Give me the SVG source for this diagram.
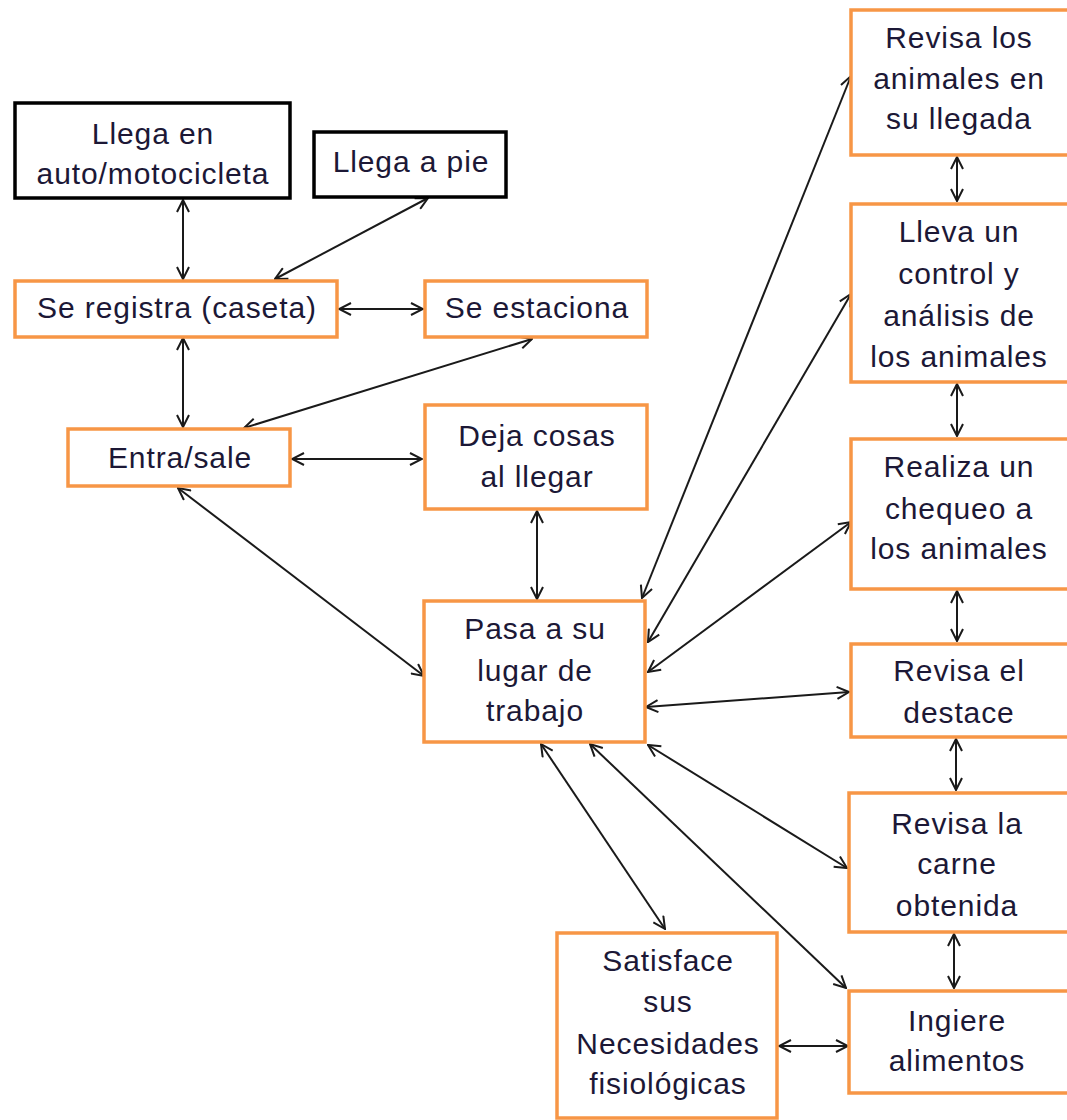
<svg xmlns="http://www.w3.org/2000/svg" width="1067" height="1120" viewBox="0 0 1067 1120">
<style>
.box{fill:#fff;stroke:#F79646;stroke-width:3.5}
.bbox{fill:#fff;stroke:#000;stroke-width:3.5}
text{font-family:"Liberation Sans",Arial,sans-serif;font-size:30px;fill:#1c1836;text-anchor:middle;letter-spacing:0.9px}
.c line{stroke:#1a1a1a;stroke-width:2;marker-start:url(#a);marker-end:url(#a)}
</style>
<defs>
<marker id="a" viewBox="0 0 14 14" refX="13" refY="7" markerWidth="14" markerHeight="14" markerUnits="userSpaceOnUse" orient="auto-start-reverse">
<path d="M1,1 L13,7 L1,13" fill="none" stroke="#1a1a1a" stroke-width="2"/>
</marker>
</defs>
<rect width="1067" height="1120" fill="#fff"/>
<g class="c">
<line x1="183" y1="200" x2="183" y2="279"/>
<line x1="428" y1="198" x2="275" y2="279"/>
<line x1="339" y1="309" x2="423" y2="309"/>
<line x1="183" y1="338" x2="183" y2="427"/>
<line x1="532" y1="339" x2="244" y2="428"/>
<line x1="292" y1="459" x2="422" y2="459"/>
<line x1="178" y1="488" x2="424" y2="676"/>
<line x1="537" y1="511" x2="537" y2="599"/>
<line x1="642" y1="598" x2="851" y2="76"/>
<line x1="648" y1="642" x2="851" y2="294"/>
<line x1="648" y1="672" x2="851" y2="522"/>
<line x1="646" y1="707" x2="849" y2="692"/>
<line x1="648" y1="745" x2="847" y2="868"/>
<line x1="590" y1="744" x2="846" y2="988"/>
<line x1="541" y1="744" x2="665" y2="929"/>
<line x1="779" y1="1046" x2="848" y2="1046"/>
<line x1="957" y1="157" x2="957" y2="201"/>
<line x1="957" y1="384" x2="957" y2="436"/>
<line x1="957" y1="591" x2="957" y2="641"/>
<line x1="956" y1="739" x2="956" y2="790"/>
<line x1="954" y1="934" x2="954" y2="988"/>
</g>
<g id="llega-auto"><rect class="bbox" x="15" y="103" width="275" height="95"/><text x="153" y="144">Llega en</text><text x="153" y="184">auto/motocicleta</text></g>
<g id="llega-pie"><rect class="bbox" x="314" y="132" width="192" height="65"/><text x="411" y="172">Llega a pie</text></g>
<g id="registra"><rect class="box" x="15" y="281" width="322" height="56"/><text x="177" y="318">Se registra (caseta)</text></g>
<g id="estaciona"><rect class="box" x="425" y="281" width="222" height="56"/><text x="537" y="318">Se estaciona</text></g>
<g id="entra"><rect class="box" x="68" y="429" width="222" height="57"/><text x="180" y="468">Entra/sale</text></g>
<g id="deja"><rect class="box" x="425" y="405" width="222" height="104"/><text x="537" y="446">Deja cosas</text><text x="537" y="487">al llegar</text></g>
<g id="pasa"><rect class="box" x="424" y="601" width="221" height="141"/><text x="535" y="639">Pasa a su</text><text x="535" y="681">lugar de</text><text x="535" y="721">trabajo</text></g>
<g id="revisa-llegada"><rect class="box" x="851" y="10" width="230" height="145"/><text x="959" y="48">Revisa los</text><text x="959" y="89">animales en</text><text x="959" y="129">su llegada</text></g>
<g id="lleva"><rect class="box" x="851" y="204" width="230" height="178"/><text x="959" y="242">Lleva un</text><text x="959" y="284">control y</text><text x="959" y="326">análisis de</text><text x="959" y="367">los animales</text></g>
<g id="realiza"><rect class="box" x="851" y="439" width="230" height="150"/><text x="959" y="477">Realiza un</text><text x="959" y="519">chequeo a</text><text x="959" y="559">los animales</text></g>
<g id="destace"><rect class="box" x="851" y="644" width="230" height="93"/><text x="959" y="681">Revisa el</text><text x="959" y="723">destace</text></g>
<g id="carne"><rect class="box" x="849" y="793" width="232" height="139"/><text x="957" y="834">Revisa la</text><text x="957" y="874">carne</text><text x="957" y="916">obtenida</text></g>
<g id="ingiere"><rect class="box" x="849" y="991" width="232" height="102"/><text x="957" y="1031">Ingiere</text><text x="957" y="1071">alimentos</text></g>
<g id="satisface"><rect class="box" x="557" y="933" width="220" height="185"/><text x="668" y="971">Satisface</text><text x="668" y="1012">sus</text><text x="668" y="1054">Necesidades</text><text x="668" y="1094">fisiológicas</text></g>
</svg>
